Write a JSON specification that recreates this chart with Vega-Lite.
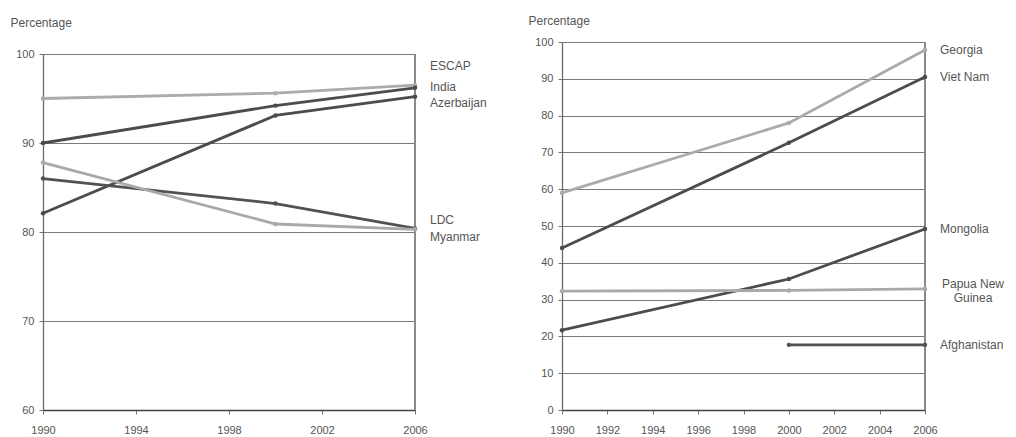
{
  "$schema": "https://vega.github.io/schema/vega-lite/v6.json",
  "padding": {"left": 10, "top": 14, "right": 0, "bottom": 0},
  "background": "white",
  "spacing": 147,
  "bounds": "flush",
  "resolve": {"scale": {"color": "independent"}},
  "config": {
    "font": "Liberation Sans",
    "view": {"stroke": null},
    "axis": {
      "labelColor": "#555555",
      "labelFontSize": 11,
      "titleColor": "#555555",
      "titleFontSize": 12,
      "titleFontWeight": "normal",
      "tickColor": "#777777",
      "tickSize": 4,
      "domainColor": "#6a6a6a",
      "domainWidth": 1.3,
      "gridColor": "#7a7a7a",
      "gridWidth": 1
    }
  },
  "datasets": {
    "left": [
      {"country": "ESCAP", "year": 1990, "pct": 95.0},
      {"country": "ESCAP", "year": 2000, "pct": 95.6},
      {"country": "ESCAP", "year": 2006, "pct": 96.5},
      {"country": "India", "year": 1990, "pct": 90.0},
      {"country": "India", "year": 2000, "pct": 94.2},
      {"country": "India", "year": 2006, "pct": 96.2},
      {"country": "Azerbaijan", "year": 1990, "pct": 82.1},
      {"country": "Azerbaijan", "year": 2000, "pct": 93.1},
      {"country": "Azerbaijan", "year": 2006, "pct": 95.2},
      {"country": "LDC", "year": 1990, "pct": 86.0},
      {"country": "LDC", "year": 2000, "pct": 83.2},
      {"country": "LDC", "year": 2006, "pct": 80.4},
      {"country": "Myanmar", "year": 1990, "pct": 87.8},
      {"country": "Myanmar", "year": 2000, "pct": 80.9},
      {"country": "Myanmar", "year": 2006, "pct": 80.3}
    ],
    "right": [
      {"country": "Georgia", "year": 1990, "pct": 59.0},
      {"country": "Georgia", "year": 2000, "pct": 78.0},
      {"country": "Georgia", "year": 2006, "pct": 97.8},
      {"country": "Viet Nam", "year": 1990, "pct": 44.0},
      {"country": "Viet Nam", "year": 2000, "pct": 72.6},
      {"country": "Viet Nam", "year": 2006, "pct": 90.5},
      {"country": "Mongolia", "year": 1990, "pct": 21.7},
      {"country": "Mongolia", "year": 2000, "pct": 35.6},
      {"country": "Mongolia", "year": 2006, "pct": 49.2},
      {"country": "Papua New Guinea", "year": 1990, "pct": 32.3},
      {"country": "Papua New Guinea", "year": 2000, "pct": 32.5},
      {"country": "Papua New Guinea", "year": 2006, "pct": 32.9},
      {"country": "Afghanistan", "year": 2000, "pct": 17.7},
      {"country": "Afghanistan", "year": 2006, "pct": 17.7}
    ]
  },
  "hconcat": [
    {
      "width": 372,
      "height": 368,
      "data": {"name": "left"},
      "encoding": {
        "x": {
          "field": "year", "type": "quantitative",
          "scale": {"domain": [1990, 2006], "nice": false, "zero": false},
          "axis": {"title": null, "values": [1990, 1994, 1998, 2002, 2006], "format": "d", "grid": false, "labelFlush": false, "labelPadding": 10, "domainColor": "#444444", "domainWidth": 1.6}
        },
        "y": {
          "field": "pct", "type": "quantitative",
          "scale": {"domain": [60, 100], "range": [368, 12], "nice": false, "zero": false},
          "axis": {"title": "Percentage", "titleAngle": 0, "titleAlign": "left", "titleBaseline": "middle", "titleX": -33, "titleY": -20, "values": [60, 70, 80, 90, 100], "grid": true, "labelPadding": 5}
        }
      },
      "layer": [
        {
          "mark": {"type": "rule", "color": "#8a8a8a", "strokeWidth": 1.2},
          "encoding": {"x": {"datum": 2006}, "y": {"datum": 60}, "y2": {"datum": 100}}
        },
        {
          "mark": {"type": "line", "strokeWidth": 2.8},
          "encoding": {
            "color": {"field": "country", "type": "nominal", "legend": null,
              "scale": {"domain": ["ESCAP", "India", "Azerbaijan", "LDC", "Myanmar"],
                        "range": ["#ababab", "#4c4c4c", "#4c4c4c", "#525252", "#a9a9a9"]}}
          }
        },
        {
          "mark": {"type": "point", "filled": true, "size": 20, "opacity": 1},
          "encoding": {
            "color": {"field": "country", "type": "nominal", "legend": null}
          }
        },
        {
          "transform": [{"filter": "datum.year === 2006"}],
          "mark": {"type": "text", "align": "left", "baseline": "middle", "dx": 15, "fontSize": 12, "color": "#555555",
            "dy": {"expr": "datum.country === 'ESCAP' ? -19 : datum.country === 'Azerbaijan' ? 6 : datum.country === 'LDC' ? -8 : datum.country === 'Myanmar' ? 8 : -1"}},
          "encoding": {"text": {"field": "country", "type": "nominal"}}
        }
      ]
    },
    {
      "width": 363,
      "height": 368,
      "data": {"name": "right"},
      "encoding": {
        "x": {
          "field": "year", "type": "quantitative",
          "scale": {"domain": [1990, 2006], "nice": false, "zero": false},
          "axis": {"title": null, "values": [1990, 1992, 1994, 1996, 1998, 2000, 2002, 2004, 2006], "format": "d", "grid": false, "labelFlush": false, "labelPadding": 10, "domainColor": "#444444", "domainWidth": 1.6}
        },
        "y": {
          "field": "pct", "type": "quantitative",
          "scale": {"domain": [0, 100], "nice": false},
          "axis": {"title": "Percentage", "titleAngle": 0, "titleAlign": "left", "titleBaseline": "middle", "titleX": -34, "titleY": -22, "values": [0, 10, 20, 30, 40, 50, 60, 70, 80, 90, 100], "grid": true, "labelPadding": 5}
        }
      },
      "layer": [
        {
          "mark": {"type": "rule", "color": "#8a8a8a", "strokeWidth": 1.2},
          "encoding": {"x": {"datum": 2006}, "y": {"datum": 0}, "y2": {"datum": 100}}
        },
        {
          "mark": {"type": "line", "strokeWidth": 2.8},
          "encoding": {
            "color": {"field": "country", "type": "nominal", "legend": null,
              "scale": {"domain": ["Georgia", "Viet Nam", "Mongolia", "Papua New Guinea", "Afghanistan"],
                        "range": ["#ababab", "#4c4c4c", "#4c4c4c", "#a9a9a9", "#525252"]}}
          }
        },
        {
          "mark": {"type": "point", "filled": true, "size": 20, "opacity": 1},
          "encoding": {
            "color": {"field": "country", "type": "nominal", "legend": null}
          }
        },
        {
          "transform": [{"filter": "datum.year === 2006"}],
          "mark": {"type": "text", "baseline": "middle", "fontSize": 12, "color": "#555555",
            "text": {"expr": "datum.country === 'Papua New Guinea' ? ['Papua New', 'Guinea'] : datum.country"},
            "align": {"expr": "datum.country === 'Papua New Guinea' ? 'center' : 'left'"},
            "dx": {"expr": "datum.country === 'Papua New Guinea' ? 48 : 15"},
            "dy": {"expr": "datum.country === 'Papua New Guinea' ? -5 : 0"}},
          "encoding": {}
        }
      ]
    }
  ]
}
